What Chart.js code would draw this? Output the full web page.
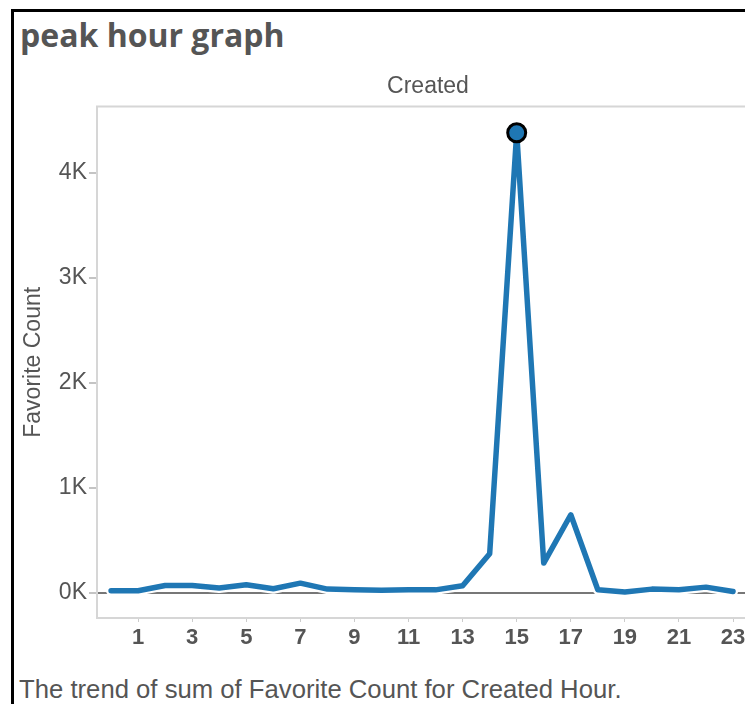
<!DOCTYPE html>
<html>
<head>
<meta charset="utf-8">
<script src="https://cdn.jsdelivr.net/npm/chart.js@4.4.1/dist/chart.umd.min.js"></script>
<style>
  html, body { margin: 0; padding: 0; background: #fff; overflow: hidden; width: 745px; height: 704px; }
  #frame { position: absolute; left: 11px; top: 9px; width: 800px; height: 760px; border: 3px solid #000; }
  #title { position: absolute; left: 20px; top: 13px; font: bold 32px "Open Sans", sans-serif; color: #555; }
  #wrap { position: absolute; left: 14px; top: 61px; width: 745px; height: 597px; }
  #caption { position: absolute; left: 19px; top: 675px; font: 25.7px "Liberation Sans", Arial, sans-serif; color: #555; }
</style>
</head>
<body>
<div id="frame"></div>
<div id="title">peak hour graph</div>
<div id="wrap"><canvas id="peakChart"></canvas></div>
<div id="caption">The trend of sum of Favorite Count for Created Hour.</div>
<script>
// created hour 0..23
var hours = ['0','1','2','3','4','5','6','7','8','9','10','11','12','13','14','15','16','17','18','19','20','21','22','23'];
// sum of favorite count per hour
var favoriteCount = [20, 20, 70, 70, 45, 76, 38, 92, 35, 29, 24, 28, 28, 67, 371, 4381, 283, 743, 29, 7, 35, 29, 54, 12];
var xTickLabels = ['1','3','5','7','9','11','13','15','17','19','21','23'];
var yTicks = [0, 1000, 2000, 3000, 4000];
var yTickLabels = ['0K', '1K', '2K', '3K', '4K'];

var points = hours.map(function(h, i) { return { x: Number(h), y: favoriteCount[i] }; });
var peakIndex = favoriteCount.indexOf(Math.max.apply(null, favoriteCount));

// light grey frame round the plot area
var plotBox = {
  id: 'plotBox',
  beforeDatasetsDraw: function(chart) {
    var a = chart.chartArea, c = chart.ctx;
    c.save();
    c.strokeStyle = '#d6d6d6';
    c.lineWidth = 2;
    c.beginPath();
    c.moveTo(a.right, a.top);
    c.lineTo(a.left, a.top);
    c.lineTo(a.left, a.bottom);
    c.lineTo(a.right, a.bottom);
    c.stroke();
    c.restore();
  }
};

var ctx = document.getElementById('peakChart').getContext('2d');
var chart = new Chart(ctx, {
  type: 'line',
  data: {
    datasets: [{
      // white halo under the line
      data: points,
      borderColor: '#ffffff',
      borderWidth: 10,
      borderCapStyle: 'round',
      borderJoinStyle: 'round',
      pointRadius: 0,
      tension: 0,
      order: 2
    }, {
      data: points,
      borderColor: '#1f77b4',
      borderWidth: 5.5,
      borderCapStyle: 'round',
      borderJoinStyle: 'round',
      pointRadius: function(c) { return c.dataIndex === peakIndex ? 9 : 0; },
      pointBackgroundColor: '#1f77b4',
      pointBorderColor: '#000',
      pointBorderWidth: 3,
      tension: 0,
      order: 1
    }]
  },
  options: {
    responsive: true,
    maintainAspectRatio: false,
    animation: false,
    layout: { padding: 0 },
    plugins: {
      legend: { display: false },
      tooltip: { enabled: false },
      title: {
        display: true,
        text: 'Created',
        fullSize: false,
        color: '#555',
        font: { family: 'Liberation Sans', size: 23, weight: 'normal' },
        padding: { top: 12, bottom: 6 }
      }
    },
    scales: {
      x: {
        type: 'linear',
        min: -0.52,
        max: 23.96,
        border: { display: false },
        afterBuildTicks: function(s) { s.ticks = xTickLabels.map(function(l) { return { value: Number(l) }; }); },
        grid: { display: true, drawOnChartArea: false, drawTicks: true, tickLength: 4, color: '#cccccc', tickColor: '#cccccc' },
        ticks: {
          autoSkip: false,
          maxRotation: 0,
          padding: 3,
          color: '#555',
          font: { family: 'Liberation Sans', size: 22, weight: 'bold' },
          callback: function(v) { var i = xTickLabels.indexOf(String(v)); return i >= 0 ? xTickLabels[i] : ''; }
        },
        afterFit: function(s) { s.height = 40; }
      },
      y: {
        min: -240,
        max: 4630,
        border: { display: false },
        afterBuildTicks: function(s) { s.ticks = yTicks.map(function(v) { return { value: v }; }); },
        grid: {
          drawTicks: true,
          tickLength: 8,
          lineWidth: 2,
          color: function(c) { return c.tick && c.tick.value === 0 ? '#777777' : 'transparent'; },
          tickColor: '#c4c4c4'
        },
        ticks: {
          padding: 2,
          color: '#555',
          font: { family: 'Liberation Sans', size: 23 },
          callback: function(v) { var i = yTicks.indexOf(v); return i >= 0 ? yTickLabels[i] : ''; }
        },
        title: {
          display: true,
          text: 'Favorite Count',
          color: '#555',
          font: { family: 'Liberation Sans', size: 23 },
          padding: { top: 6, bottom: 1 }
        },
        afterFit: function(s) { s.width = 83; }
      }
    }
  },
  plugins: [plotBox]
});
</script>
</body>
</html>
